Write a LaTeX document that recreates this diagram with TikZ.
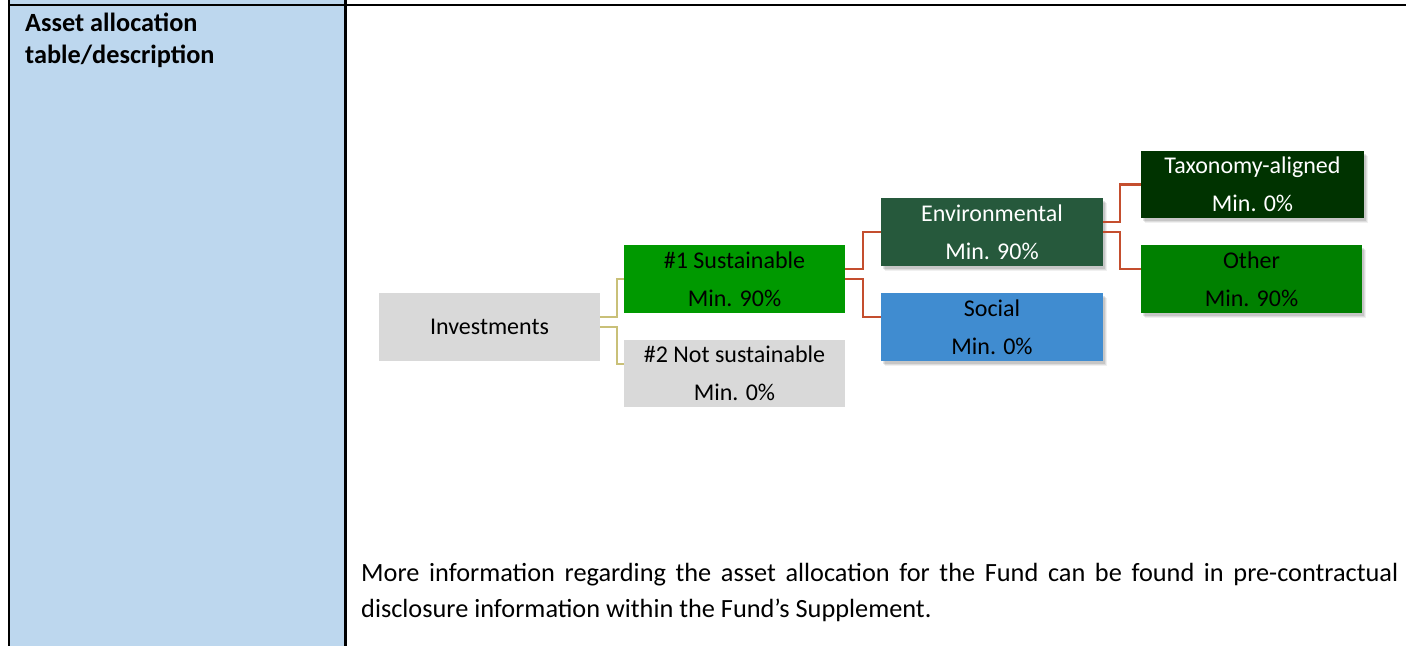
\documentclass[tikz,border=0pt]{standalone}
\usepackage{fontspec}
\setmainfont{Carlito}
\usetikzlibrary{shadows}
\definecolor{cellblue}{RGB}{189,215,238}
\definecolor{boxgray}{RGB}{217,217,217}
\definecolor{susgreen}{RGB}{0,153,0}
\definecolor{envgreen}{RGB}{38,89,60}
\definecolor{socblue}{RGB}{64,140,208}
\definecolor{taxgreen}{RGB}{0,51,0}
\definecolor{othgreen}{RGB}{0,128,0}
\definecolor{tanline}{RGB}{201,192,120}
\definecolor{redline}{RGB}{196,78,46}
\tikzset{
  boxnode/.style={minimum width=221pt, minimum height=68pt, inner sep=0pt, align=center,
    font=\fontsize{24}{38}\selectfont},
  shadowed/.style={
    drop shadow={shadow xshift=4pt, shadow yshift=-5pt, fill=black, opacity=0.06},
    drop shadow={shadow xshift=3pt, shadow yshift=-4pt, fill=black, opacity=0.08},
    drop shadow={shadow xshift=2pt, shadow yshift=-2.5pt, fill=black, opacity=0.10}},
  tanconn/.style={draw=tanline, line width=2pt},
  redconn/.style={draw=redline, line width=2.4pt},
  rule/.style={line width=2.2pt, black}
}
\begin{document}
\begin{tikzpicture}[x=1pt,y=-1pt]
\useasboundingbox (0,0) rectangle (1406,646);
% table cells
\fill[cellblue] (9,0) rectangle (345,646);
\draw[rule] (9,0) -- (9,646);
\draw[rule] (345.5,0) -- (345.5,646);
\draw[rule] (8,5) -- (1406,5);
% header
\node[anchor=base west, inner sep=0pt, align=left, font=\fontsize{26.3}{32.5}\selectfont\bfseries] (head) at (25,63.5) {Asset allocation\\table/description};
% boxes
\node[boxnode, fill=boxgray] (inv) at (489.5,327) {Investments};
\node[boxnode, fill=susgreen] (s1) at (734.5,279) {\#1 Sustainable\\Min. 90\%};
\node[boxnode, fill=boxgray, minimum height=67pt] (s2) at (734.5,373.5) {\#2 Not sustainable\\Min. 0\%};
\node[boxnode, shadowed, fill=envgreen, text=white, minimum width=222pt] (env) at (992,232) {Environmental\\Min. 90\%};
\node[boxnode, shadowed, fill=socblue, minimum width=222pt] (soc) at (992,327) {Social\\Min. 0\%};
\node[boxnode, shadowed, fill=taxgreen, text=white, minimum width=223pt, minimum height=67pt] (tax) at (1252.5,184.5) {Taxonomy-aligned\\Min. 0\%};
\node[boxnode, shadowed, fill=othgreen] (oth) at (1251.5,279) {Other\\Min. 90\%};
% connectors
\draw[tanconn] ([yshift=10pt]inv.east) -- ++(17,0) |- (s1.west);
\draw[tanconn] (inv.east) -- ++(17,0) |- ([yshift=10pt]s2.west);
\draw[redconn] ([yshift=10pt]s1.east) -- ++(18,0) |- (env.west);
\draw[redconn] (s1.east) -- ++(18,0) |- ([yshift=10pt]soc.west);
\draw[redconn] ([yshift=10pt]env.east) -- ++(17,0) |- (tax.west);
\draw[redconn] (env.east) -- ++(17,0) |- ([yshift=10pt]oth.west);
% note
\node[anchor=base west, inner sep=0pt, text width=1037pt, align=justify,
  font=\fontsize{26.3}{36}\selectfont] (note) at (361,581)
  {More information regarding the asset allocation for the Fund can be found in pre-contractual\linebreak disclosure information within the Fund’s Supplement.};
\end{tikzpicture}
\end{document}
